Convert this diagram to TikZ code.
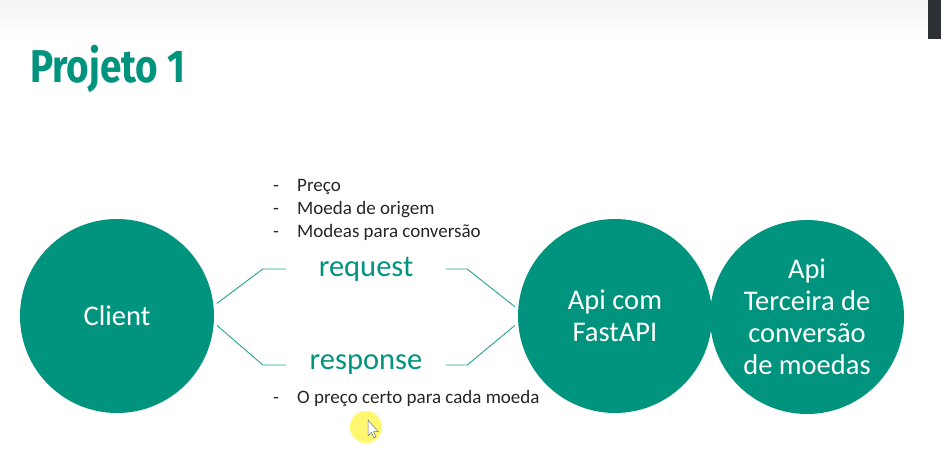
\documentclass[tikz,border=0pt]{standalone}
\usepackage{fontspec}
\setmainfont{Carlito}
\newfontfamily\titlefont{Fira Sans}[FakeStretch=0.84]
\definecolor{brand}{HTML}{00947F}
\definecolor{barfill}{HTML}{2D3035}
\begin{document}
\begin{tikzpicture}[x=1pt,y=-1pt,
  bubble/.style={circle, fill=brand, minimum size=194pt, inner sep=0pt, text=white,
    align=center, font=\fontsize{28.5}{32}\selectfont},
  link/.style={draw=brand!85, line width=0.9pt},
  msg/.style={text=brand, inner sep=0pt, minimum width=160pt, font=\fontsize{30.5}{34}\selectfont},
  note/.style={anchor=base west, inner sep=0pt, text=black!85, font=\fontsize{19}{23}\selectfont}]
% page and top band
\useasboundingbox (0,0) rectangle (941,475);
\fill[white] (0,0) rectangle (941,475);
\shade[top color=black!4, bottom color=white] (0,0) rectangle (941,45);
\fill[barfill] (928,0) rectangle (941,39);

% title
\node[anchor=base west, inner sep=0pt, text=brand, font=\titlefont\bfseries\fontsize{46}{50}\selectfont] (title) at (30,82) {Projeto 1};

% circles
\node[bubble] (client) at (117,316) {Client};
\node[bubble] (api) at (615,316) {Api com\\FastAPI};
\node[bubble] (ext) at (807,317) {Api\\Terceira de\\conversão\\de moedas};

% message labels
\node[msg] (req) at (366,269) {request};
\node[msg] (resp) at (366,365) {response};

% connectors
\draw[link, shorten <=4pt] (client.6) -- ([xshift=-23pt]req.west) -- (req.west);
\draw[link, shorten >=4pt] (req.east) -- ([xshift=21pt]req.east) -- (api.176);
\draw[link, shorten <=4pt] (client.-4) -- ([xshift=-23pt]resp.west) -- (resp.west);
\draw[link, shorten >=4pt] (resp.east) -- ([xshift=21pt]resp.east) -- (api.184);

% request contents
\node[note] (d1) at (273,191) {-};
\node[note] (t1) at (297,191) {Preço};
\node[note] (d2) at (273,214) {-};
\node[note] (t2) at (297,214) {Moeda de origem};
\node[note] (d3) at (273,237) {-};
\node[note] (t3) at (297,237) {Modeas para conversão};

% response contents
\node[note] (d4) at (273,403) {-};
\node[note] (t4) at (297,403) {O preço certo para cada moeda};

% pointer highlight
\fill[yellow!75!white, opacity=0.75] (366,427) circle (16);
\filldraw[fill=white, draw=black!55, line width=0.5pt]
  (368,420) -- (368,436) -- (371.5,432.5) -- (374,438) -- (376,437) -- (373.5,431.5) -- (378,431.5) -- cycle;
\end{tikzpicture}
\end{document}
